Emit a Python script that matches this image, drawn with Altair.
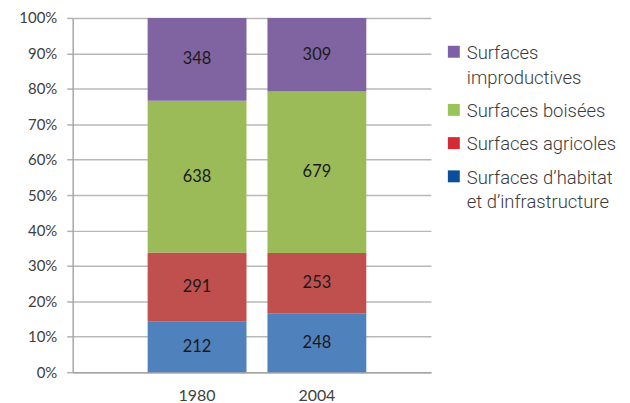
import altair as alt
import pandas as pd

# ---- data ----
years = ["1980", "2004"]
categories = [
    "Surfaces d’habitat et d’infrastructure",
    "Surfaces agricoles",
    "Surfaces boisées",
    "Surfaces improductives",
]
values_1980 = [212, 291, 638, 348]
values_2004 = [248, 253, 679, 309]
bar_colors = ["#4f81bd", "#c0504d", "#9bbb59", "#8064a2"]
legend_colors = ["#0b4f9c", "#d62a32", "#9bc35b", "#7f5fa5"]
# legend entries from top to bottom (index into categories) and their text lines
legend_index = [3, 2, 1, 0]
legend_lines = [
    ["Surfaces", "improductives"],
    ["Surfaces boisées"],
    ["Surfaces agricoles"],
    ["Surfaces d’habitat", "et d’infrastructure"],
]
y_ticks = [0, 0.1, 0.2, 0.3, 0.4, 0.5, 0.6, 0.7, 0.8, 0.9, 1.0]

# ---- tables ----
rows = []
for year, vals in zip(years, [values_1980, values_2004]):
    for i, (cat, v) in enumerate(zip(categories, vals)):
        rows.append({"year": year, "category": cat, "order": i, "value": v})
df = pd.DataFrame(rows)

# legend layout (style constants)
W, H = 360, 356
LINE_H = 25
ENTRY_GAP = 33.4
FIRST_BASELINE = 41.3
SQUARE_RAISE = 7.3
SQ_X = 383
TXT_X = 396

sq_rows, txt_rows = [], []
yb = FIRST_BASELINE
for k, (ci, lines) in enumerate(zip(legend_index, legend_lines)):
    if k > 0:
        yb += ENTRY_GAP
    sq_rows.append({"category": categories[ci], "color": legend_colors[ci], "sy": yb - SQUARE_RAISE})
    for j, line in enumerate(lines):
        if j > 0:
            yb += LINE_H
        txt_rows.append({"line": line, "ty": yb})
sq_df = pd.DataFrame(sq_rows)
txt_df = pd.DataFrame(txt_rows)

# ---- chart ----
base = alt.Chart(df).transform_stack(
    stack="value",
    groupby=["year"],
    sort=[alt.SortField("order", order="ascending")],
    as_=["y0", "y1"],
    offset="normalize",
).transform_calculate(mid="(datum.y0 + datum.y1) / 2")

xscale = alt.Scale(domain=years, paddingInner=0.175, paddingOuter=0.5825, align=0.537)
yscale = alt.Scale(domain=[0, 1])

xaxis = alt.Axis(
    title=None, labelAngle=0, ticks=False, grid=False,
    labelFont="Lato", labelFontSize=16, labelColor="#404040", labelPadding=15,
    domainColor="#a6a6a6", domainWidth=1.5,
)
yaxis = alt.Axis(
    title=None, values=y_ticks, format=".0%",
    labelFont="Lato", labelFontSize=15, labelColor="#404040", labelPadding=10,
    tickSize=6, tickColor="#b0b0b0", tickWidth=1.5,
    domainColor="#a6a6a6", domainWidth=1.5,
    gridColor="#b8b8b8", gridWidth=1.5,
)

bars = base.mark_bar().encode(
    x=alt.X("year:N", scale=xscale, axis=xaxis),
    y=alt.Y("y0:Q", scale=yscale, axis=yaxis),
    y2="y1:Q",
    color=alt.Color("category:N", scale=alt.Scale(domain=categories, range=bar_colors), legend=None),
)

labels = base.mark_text(font="Lato", fontSize=16.5, color="#1a1a1a").encode(
    x=alt.X("year:N", scale=xscale, axis=xaxis),
    y=alt.Y("mid:Q", scale=yscale, axis=yaxis),
    text=alt.Text("value:Q"),
)

leg_sq = alt.Chart(sq_df).mark_square(size=144, opacity=1).encode(
    x=alt.value(SQ_X),
    y=alt.Y("sy:Q", scale=None, axis=None),
    fill=alt.Fill("color:N", scale=None, legend=None),
)

leg_txt = alt.Chart(txt_df).mark_text(
    align="left", baseline="alphabetic", font="Roboto", fontSize=18.5,
    fontWeight=300, color="#3a3a3a",
).encode(
    x=alt.value(TXT_X),
    y=alt.Y("ty:Q", scale=None, axis=None),
    text="line:N",
)

chart = alt.layer(bars, labels, leg_sq, leg_txt).properties(
    width=W, height=H,
    padding={"left": 10, "top": 2, "right": 5, "bottom": 0},
).configure_view(stroke=None)

chart.save("out.html", embed_options={"renderer": "svg", "actions": False})
